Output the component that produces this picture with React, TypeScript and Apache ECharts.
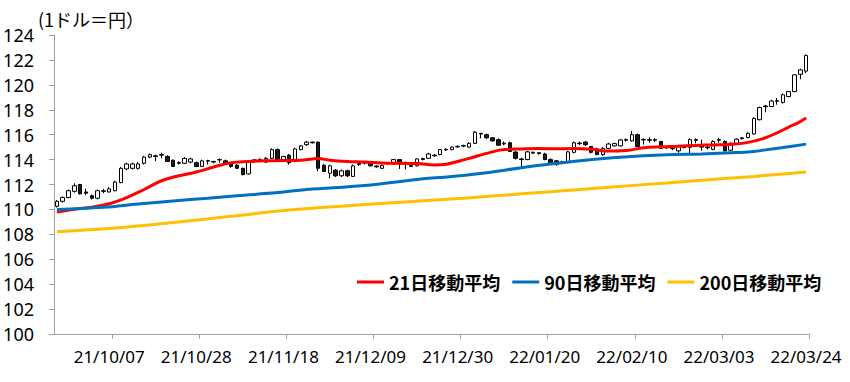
import React, { useEffect, useRef } from "react";
import * as echarts from "echarts";

const dates = [
  "21/09/24","21/09/27","21/09/28","21/09/29","21/09/30","21/10/01",
  "21/10/04","21/10/05","21/10/06","21/10/07","21/10/08",
  "21/10/11","21/10/12","21/10/13","21/10/14","21/10/15",
  "21/10/18","21/10/19","21/10/20","21/10/21","21/10/22",
  "21/10/25","21/10/26","21/10/27","21/10/28","21/10/29",
  "21/11/01","21/11/02","21/11/03","21/11/04","21/11/05",
  "21/11/08","21/11/09","21/11/10","21/11/11","21/11/12",
  "21/11/15","21/11/16","21/11/17","21/11/18","21/11/19",
  "21/11/22","21/11/23","21/11/24","21/11/25","21/11/26",
  "21/11/29","21/11/30","21/12/01","21/12/02","21/12/03",
  "21/12/06","21/12/07","21/12/08","21/12/09","21/12/10",
  "21/12/13","21/12/14","21/12/15","21/12/16","21/12/17",
  "21/12/20","21/12/21","21/12/22","21/12/23","21/12/24",
  "21/12/27","21/12/28","21/12/29","21/12/30","21/12/31",
  "22/01/03","22/01/04","22/01/05","22/01/06","22/01/07",
  "22/01/10","22/01/11","22/01/12","22/01/13","22/01/14",
  "22/01/17","22/01/18","22/01/19","22/01/20","22/01/21",
  "22/01/24","22/01/25","22/01/26","22/01/27","22/01/28",
  "22/01/31","22/02/01","22/02/02","22/02/03","22/02/04",
  "22/02/07","22/02/08","22/02/09","22/02/10","22/02/11",
  "22/02/14","22/02/15","22/02/16","22/02/17","22/02/18",
  "22/02/21","22/02/22","22/02/23","22/02/24","22/02/25",
  "22/02/28","22/03/01","22/03/02","22/03/03","22/03/04",
  "22/03/07","22/03/08","22/03/09","22/03/10","22/03/11",
  "22/03/14","22/03/15","22/03/16","22/03/17","22/03/18",
  "22/03/21","22/03/22","22/03/23","22/03/24",
];

// [open, close, low, high]
const ohlc = [
  [110.25, 110.65, 110.15, 110.75],
  [110.65, 110.95, 110.55, 111.05],
  [110.95, 111.5, 110.9, 111.6],
  [111.45, 111.9, 111.35, 112.1],
  [112.0, 111.25, 111.2, 112.05],
  [111.4, 111.3, 111.15, 111.65],
  [111.1, 110.9, 110.8, 111.2],
  [110.9, 111.5, 110.8, 111.6],
  [111.45, 111.5, 111.3, 111.65],
  [111.4, 111.65, 111.35, 111.8],
  [111.5, 112.2, 111.45, 112.3],
  [112.15, 113.3, 112.1, 113.4],
  [113.25, 113.65, 113.15, 113.75],
  [113.3, 113.65, 113.2, 113.75],
  [113.3, 113.65, 113.2, 113.8],
  [113.7, 114.2, 113.6, 114.3],
  [114.2, 114.4, 114.1, 114.5],
  [114.3, 114.25, 113.85, 114.4],
  [114.35, 114.4, 114.1, 114.55],
  [114.25, 113.85, 113.8, 114.35],
  [113.95, 113.45, 113.4, 114.0],
  [113.7, 113.78, 113.6, 113.85],
  [113.7, 114.1, 113.65, 114.2],
  [113.8, 114.05, 113.7, 114.15],
  [113.75, 113.45, 113.4, 113.85],
  [113.45, 113.9, 113.4, 114.0],
  [113.92, 113.88, 113.6, 113.98],
  [113.85, 113.8, 113.7, 113.9],
  [113.98, 114.0, 113.75, 114.1],
  [113.9, 113.72, 113.65, 114.0],
  [113.7, 113.45, 113.35, 113.75],
  [113.55, 113.3, 113.25, 113.65],
  [113.3, 112.8, 112.72, 113.35],
  [112.85, 113.85, 112.8, 113.95],
  [113.88, 113.98, 113.8, 114.05],
  [113.95, 114.02, 113.85, 114.1],
  [113.8, 114.1, 113.75, 114.2],
  [114.1, 114.8, 114.05, 114.9],
  [114.8, 113.95, 113.9, 114.9],
  [113.95, 114.25, 113.85, 114.3],
  [114.35, 113.75, 113.6, 114.45],
  [113.85, 114.85, 113.8, 114.95],
  [114.8, 115.1, 114.75, 115.15],
  [115.2, 115.4, 115.1, 115.5],
  [115.4, 115.35, 115.3, 115.45],
  [115.4, 113.3, 113.05, 115.45],
  [113.55, 113.05, 113.0, 113.65],
  [112.9, 113.5, 112.5, 113.6],
  [113.15, 112.7, 112.6, 113.25],
  [112.7, 113.1, 112.6, 113.2],
  [113.1, 112.7, 112.6, 113.2],
  [112.65, 113.5, 112.6, 113.6],
  [113.6, 113.68, 113.5, 113.75],
  [113.72, 113.78, 113.6, 113.85],
  [113.75, 113.5, 113.45, 113.85],
  [113.48, 113.42, 113.35, 113.55],
  [113.3, 113.52, 113.25, 113.6],
  [113.66, 113.72, 113.6, 113.8],
  [113.65, 114.0, 113.6, 114.05],
  [114.0, 113.65, 113.25, 114.05],
  [113.78, 113.74, 113.2, 113.82],
  [113.45, 113.52, 113.4, 113.6],
  [113.5, 114.05, 113.45, 114.1],
  [114.0, 114.08, 113.95, 114.15],
  [114.1, 114.45, 114.05, 114.55],
  [114.35, 114.3, 114.25, 114.45],
  [114.4, 114.8, 114.35, 114.85],
  [114.78, 114.82, 114.7, 114.9],
  [114.8, 115.0, 114.75, 115.05],
  [115.02, 115.06, 114.95, 115.15],
  [115.08, 115.12, 115.0, 115.2],
  [115.0, 115.3, 114.95, 115.4],
  [115.3, 116.2, 115.25, 116.3],
  [116.1, 116.05, 115.7, 116.15],
  [116.0, 115.75, 115.65, 116.1],
  [115.75, 115.5, 115.45, 115.8],
  [115.6, 115.15, 115.1, 115.7],
  [115.25, 115.32, 115.15, 115.45],
  [115.35, 114.65, 114.6, 115.45],
  [114.6, 114.1, 114.0, 114.7],
  [114.05, 114.0, 113.4, 114.15],
  [114.0, 114.62, 113.95, 114.7],
  [114.52, 114.58, 114.45, 114.65],
  [114.55, 114.48, 114.4, 114.6],
  [114.45, 114.0, 113.95, 114.55],
  [114.0, 113.65, 113.6, 114.1],
  [113.9, 113.6, 113.5, 113.95],
  [113.75, 113.82, 113.65, 113.9],
  [113.78, 114.62, 113.7, 114.7],
  [114.58, 115.35, 114.5, 115.45],
  [115.32, 115.28, 115.15, 115.45],
  [115.4, 115.2, 115.1, 115.5],
  [115.05, 114.58, 114.5, 115.1],
  [114.85, 114.4, 114.35, 114.95],
  [114.4, 114.9, 114.3, 115.0],
  [114.9, 115.25, 114.85, 115.35],
  [115.1, 115.28, 115.05, 115.35],
  [115.1, 115.58, 115.05, 115.65],
  [115.55, 115.6, 115.45, 115.7],
  [115.5, 116.0, 115.45, 116.3],
  [116.0, 115.05, 115.0, 116.1],
  [115.62, 115.58, 115.2, 115.7],
  [115.55, 115.6, 115.35, 115.8],
  [115.6, 115.55, 115.4, 115.7],
  [115.45, 114.9, 114.85, 115.5],
  [114.95, 115.02, 114.85, 115.1],
  [114.92, 114.88, 114.75, 115.0],
  [114.7, 115.1, 114.55, 115.2],
  [115.0, 114.96, 114.9, 115.1],
  [114.98, 115.6, 114.4, 115.7],
  [115.6, 115.55, 115.3, 115.7],
  [115.1, 115.0, 114.7, 115.6],
  [115.0, 114.95, 114.8, 115.1],
  [114.82, 115.45, 114.75, 115.55],
  [115.55, 115.6, 115.35, 115.75],
  [115.45, 114.7, 114.65, 115.55],
  [114.75, 115.3, 114.7, 115.4],
  [115.28, 115.64, 115.2, 115.7],
  [115.68, 115.75, 115.6, 115.8],
  [115.78, 116.1, 115.7, 116.2],
  [116.06, 117.3, 116.0, 117.4],
  [117.2, 118.18, 117.15, 118.25],
  [118.3, 118.25, 117.8, 118.4],
  [118.26, 118.7, 118.2, 118.8],
  [118.72, 118.68, 118.4, 118.95],
  [118.58, 119.2, 118.5, 119.3],
  [119.06, 119.46, 119.0, 119.5],
  [119.46, 120.8, 119.4, 120.85],
  [120.85, 121.2, 120.45, 121.3],
  [121.1, 122.35, 120.95, 122.45],
];

const ma21 = [
  ["21/09/24", 109.8], ["21/09/29", 110.02], ["21/10/04", 110.18], ["21/10/07", 110.45],
  ["21/10/12", 110.95], ["21/10/15", 111.6], ["21/10/20", 112.3], ["21/10/25", 112.7],
  ["21/10/28", 113.0], ["21/11/02", 113.4], ["21/11/05", 113.75], ["21/11/10", 113.85],
  ["21/11/15", 113.9], ["21/11/18", 113.92], ["21/11/23", 113.95], ["21/11/25", 114.05],
  ["21/11/26", 114.08], ["21/11/30", 113.95], ["21/12/03", 113.85], ["21/12/08", 113.8],
  ["21/12/13", 113.72], ["21/12/16", 113.7], ["21/12/21", 113.68], ["21/12/24", 113.57],
  ["21/12/28", 113.62], ["21/12/30", 113.85], ["22/01/03", 114.1], ["22/01/06", 114.5],
  ["22/01/11", 114.8], ["22/01/14", 114.85], ["22/01/19", 114.88], ["22/01/24", 114.86],
  ["22/01/27", 114.88], ["22/02/01", 114.82], ["22/02/04", 114.68], ["22/02/09", 114.72],
  ["22/02/14", 114.95], ["22/02/17", 115.03], ["22/02/22", 115.08], ["22/02/25", 115.14],
  ["22/03/02", 115.18], ["22/03/07", 115.22], ["22/03/09", 115.3], ["22/03/11", 115.48],
  ["22/03/15", 115.75], ["22/03/17", 116.15], ["22/03/21", 116.6], ["22/03/23", 117.05],
  ["22/03/24", 117.35],
];

const ma90 = [
  ["21/09/24", 110.0], ["21/10/06", 110.17], ["21/10/14", 110.44], ["21/10/22", 110.68],
  ["21/11/01", 110.9], ["21/11/08", 111.1], ["21/11/17", 111.35], ["21/11/24", 111.6],
  ["21/12/08", 111.92], ["21/12/21", 112.4], ["21/12/29", 112.65], ["22/01/06", 112.95],
  ["22/01/14", 113.35], ["22/01/21", 113.65], ["22/01/31", 113.95], ["22/02/08", 114.18],
  ["22/02/18", 114.38], ["22/02/28", 114.45], ["22/03/08", 114.56], ["22/03/11", 114.64],
  ["22/03/15", 114.78], ["22/03/18", 114.97], ["22/03/24", 115.24],
];

const ma200 = [
  ["21/09/24", 108.2], ["21/10/08", 108.5], ["21/10/22", 108.95], ["21/11/05", 109.45],
  ["21/11/19", 109.95], ["21/12/03", 110.3], ["21/12/17", 110.6], ["21/12/31", 110.9],
  ["22/01/14", 111.25], ["22/01/28", 111.6], ["22/02/11", 111.95], ["22/02/25", 112.3],
  ["22/03/11", 112.65], ["22/03/24", 113.0],
];

const seriesNames = ["21日移動平均", "90日移動平均", "200日移動平均"];
const unitLabel = "(1ドル＝円）";

const FONT = "'Noto Sans', 'Noto Sans CJK JP', sans-serif";

export default function App() {
  const ref = useRef<HTMLDivElement>(null);
  useEffect(() => {
    if (!ref.current) return;
    const chart = echarts.init(ref.current, null, { renderer: "svg" });
    chart.setOption({
      animation: false,
      backgroundColor: "#ffffff",
      textStyle: { fontFamily: FONT },
      title: {
        text: unitLabel,
        left: 38,
        top: 10,
        padding: 0,
        textStyle: { fontSize: 18, fontWeight: "normal", color: "#000", fontFamily: "'Noto Sans CJK JP', sans-serif" },
      },
      legend: {
        data: seriesNames,
        left: 352,
        top: 268,
        icon: "rect",
        itemWidth: 27,
        itemHeight: 3,
        itemGap: 12,
        textStyle: { fontSize: 18, fontWeight: "bold", color: "#000", fontFamily: "'Noto Sans CJK JP', sans-serif" },
      },
      grid: { left: 54, right: 41, top: 35, bottom: 48, containLabel: false },
      xAxis: {
        type: "category",
        data: dates,
        boundaryGap: true,
        axisLine: { lineStyle: { color: "#a0a0a0", width: 1 } },
        axisTick: {
          show: true,
          length: 5,
          lineStyle: { color: "#a0a0a0" },
          interval: (i: number) => i >= 10 && (i - 10) % 15 === 0,
        },
        axisLabel: {
          interval: (i: number) => i >= 9 && (i - 9) % 15 === 0,
          fontSize: 17,
          color: "#000",
          margin: 14,
          fontFamily: FONT,
        },
        splitLine: { show: false },
      },
      yAxis: {
        type: "value",
        min: 100,
        max: 124,
        interval: 2,
        axisLine: { show: true, lineStyle: { color: "#a0a0a0", width: 1 } },
        axisTick: { show: true, length: 5, lineStyle: { color: "#a0a0a0" } },
        axisLabel: { fontSize: 18, color: "#000", margin: 20, fontFamily: FONT },
        splitLine: { show: false },
      },
      series: [
        {
          type: "candlestick",
          name: "USDJPY",
          data: ohlc,
          barWidth: 4,
          z: 2,
          itemStyle: {
            color: "#ffffff",
            color0: "#1a1a1a",
            borderColor: "#000000",
            borderColor0: "#000000",
            borderWidth: 1,
          },
        },
        {
          type: "line",
          name: seriesNames[0],
          data: ma21,
          symbol: "none",
          smooth: 0.4,
          z: 3,
          color: "#ff0000",
          lineStyle: { width: 3, color: "#ff0000" },
        },
        {
          type: "line",
          name: seriesNames[1],
          data: ma90,
          symbol: "none",
          smooth: 0.4,
          z: 3,
          color: "#0070c0",
          lineStyle: { width: 3, color: "#0070c0" },
        },
        {
          type: "line",
          name: seriesNames[2],
          data: ma200,
          symbol: "none",
          smooth: 0.4,
          z: 3,
          color: "#ffc000",
          lineStyle: { width: 3, color: "#ffc000" },
        },
      ],
    });
    return () => chart.dispose();
  }, []);
  return (
    <div
      ref={ref}
      style={{ position: "fixed", left: 0, top: 0, width: 850, height: 382, background: "#fff" }}
    />
  );
}
